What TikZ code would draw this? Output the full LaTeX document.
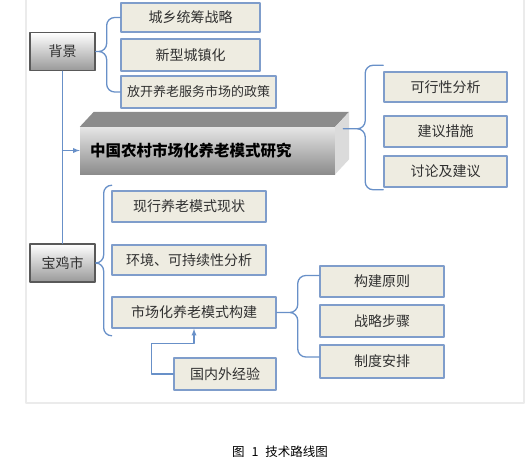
\documentclass[tikz,border=0pt]{standalone}
\usepackage{fontspec}
\setmainfont{Noto Sans CJK SC}
\usetikzlibrary{calc}
\definecolor{boxfill}{HTML}{EEECE1}
\definecolor{boxline}{HTML}{7F9DCB}
\definecolor{linkblue}{HTML}{6890C8}
\definecolor{framegray}{HTML}{EBEBEB}
\definecolor{txt}{HTML}{303030}
\begin{document}
\begin{tikzpicture}[x=1pt,y=-1pt,line cap=round,line join=round,>=latex,
  item/.style={draw=boxline,line width=1.5pt,fill=boxfill,text=txt,font=\fontsize{14}{16}\selectfont,inner sep=0pt},
  hub/.style={draw=black!65,line width=1.3pt,top color=white,bottom color=black!40,text=txt,font=\fontsize{14}{16}\selectfont,minimum width=65pt,minimum height=38pt},
  mainface/.style={shading=axis,top color=black!10,middle color=white,bottom color=black!45,font=\fontsize{15.5}{17}\selectfont\bfseries,text width=235pt,align=left,inner xsep=10pt,inner ysep=0pt,minimum height=47pt},
  link/.style={draw=linkblue,line width=1.3pt},
  curly/.style={link,rounded corners=8pt}]
\useasboundingbox (0,0) rectangle (526,464);
% frame
\draw[framegray,line width=1.5pt] (26,-5) -- (26,403) -- (524,403) -- (524,-5);
% left column
\node[hub] (bg) at (62.5,51.5) {背景};
\node[hub] (bj) at (62.5,263) {宝鸡市};
% background boxes
\node[item,minimum width=139pt,minimum height=29pt] (c1) at (190.5,17.5) {城乡统筹战略};
\node[item,minimum width=139pt,minimum height=32pt] (c2) at (190.5,55) {新型城镇化};
\node[item,minimum width=155pt,minimum height=32pt,font=\fontsize{13}{15}\selectfont] (c3) at (198.5,92) {放开养老服务市场的政策};
% main box
\node[mainface] (main) at (207.5,150.5) {中国农村市场化养老模式研究};
\fill[black!45] (main.north west) -- ++(14,-15) -- ($(main.north east)+(14,-15)$) -- (main.north east) -- cycle;
\fill[black!14] (main.north east) -- ++(14,-15) -- ($(main.south east)+(14,-15)$) -- (main.south east) -- cycle;
% results
\node[item,minimum width=123pt,minimum height=30pt] (r1) at (445.5,87) {可行性分析};
\node[item,minimum width=123pt,minimum height=31pt] (r2) at (445.5,131.5) {建议措施};
\node[item,minimum width=123pt,minimum height=31pt] (r3) at (445.5,171.5) {讨论及建议};
% Baoji boxes
\node[item,minimum width=154pt,minimum height=31pt] (b1) at (189,206.5) {现行养老模式现状};
\node[item,minimum width=154pt,minimum height=30pt] (b2) at (189,260) {环境、可持续性分析};
\node[item,minimum width=164pt,minimum height=31pt] (b3) at (194,312.5) {市场化养老模式构建};
\node[item,minimum width=124pt,minimum height=31pt] (m1) at (382,281.5) {构建原则};
\node[item,minimum width=124pt,minimum height=32pt] (m2) at (382,321) {战略步骤};
\node[item,minimum width=124pt,minimum height=33pt] (m3) at (382,361.5) {制度安排};
\node[item,minimum width=102pt,minimum height=32pt] (ex) at (225,374) {国内外经验};
% connectors
\draw[link] (bg.south) -- (bj.north);
\draw[link,->] (bg.south |- main.west) -- (main.west);
\draw[curly] (bg.east) -- ++(11,0) |- (c1.west) (bg.east) -- ++(11,0) |- (c3.west);
\coordinate (mtip) at ([xshift=8pt,yshift=-2pt]main.north east);
\draw[curly] (mtip) -- ++(22,0) |- ([yshift=6pt]r1.north west) (mtip) -- ++(22,0) |- ([yshift=-2pt]r3.south west);
\draw[curly] (bj.east) -- ++(8,0) |- ([yshift=5pt]b1.north west) (bj.east) -- ++(8,0) |- ([yshift=-7pt]b3.south west);
\draw[curly] (b3.east) -- ++(21,0) |- ([yshift=6pt]m1.west) (b3.east) -- ++(21,0) |- ([yshift=4.5pt]m3.west);
\draw[link,->] (ex.west) -- ++(-22,0) |- ([yshift=-15pt]b3.south) -- (b3.south);
% caption
\node[font=\fontsize{12.5}{14}\selectfont] (cap) at (280,452) {图\hspace{7pt}1\hspace{7pt}技术路线图};
\end{tikzpicture}
\end{document}
